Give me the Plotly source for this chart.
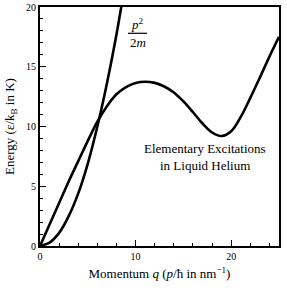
import plotly.graph_objects as go

# Roton dispersion curve
roton_q = [0, 1, 2, 3, 4, 5, 6, 7, 8, 9, 10, 11, 12, 13, 14, 15, 16, 17, 18, 19, 20, 21, 22, 23, 24, 25]
roton_e = [0, 1.8, 3.6, 5.4, 7.1, 8.8, 10.4, 11.7, 12.7, 13.3, 13.65, 13.75, 13.65, 13.35, 12.85, 12.1, 11.2, 10.25, 9.5, 9.2, 9.6, 10.8, 12.4, 14.1, 15.85, 17.5]

# Free particle p^2/2m curve
free_q = [0, 1, 2, 3, 4, 5, 6, 7, 8, 8.6]
free_e = [0, 0.28, 1.1, 2.5, 4.4, 6.9, 10.0, 13.6, 17.7, 20.5]

x_ticks = [0, 10, 20]
y_ticks = [0, 5, 10, 15, 20]

FONT = "Liberation Serif"

fig = go.Figure()
fig.add_trace(go.Scatter(x=free_q, y=free_e, mode="lines",
                         line=dict(color="black", width=2.6, shape="spline", smoothing=0.8),
                         showlegend=False, hoverinfo="skip"))
fig.add_trace(go.Scatter(x=roton_q, y=roton_e, mode="lines",
                         line=dict(color="black", width=2.6, shape="spline", smoothing=1.0),
                         showlegend=False, hoverinfo="skip"))

fig.update_layout(
    width=287, height=291,
    margin=dict(l=40, r=8, t=7, b=45),
    plot_bgcolor="white", paper_bgcolor="white",
    font=dict(family=FONT, size=12, color="black"),
    xaxis=dict(range=[0, 25], tickvals=x_ticks, ticks="inside", ticklen=6, tickwidth=1.2, tickcolor="black",
               showline=True, linecolor="black", linewidth=2, mirror=True, showgrid=False, zeroline=False,
               automargin=False, tickfont=dict(size=10, family=FONT),
               minor=dict(dtick=2, ticks="inside", ticklen=3, tickcolor="black", tickwidth=1.2, showgrid=False),
               title=dict(text="Momentum <i>q</i> (<i>p</i>/ħ in nm<sup>−1</sup>)", font=dict(size=13, family=FONT), standoff=8)),
    yaxis=dict(range=[0, 20], tickvals=y_ticks, ticks="inside", ticklen=6, tickwidth=1.2, tickcolor="black",
               showline=True, linecolor="black", linewidth=2, mirror=True, showgrid=False, zeroline=False,
               automargin=False, tickfont=dict(size=10, family=FONT),
               minor=dict(dtick=1, ticks="inside", ticklen=3, tickcolor="black", tickwidth=1.2, showgrid=False),
               title=dict(text="Energy (ε/k<sub>B</sub> in K)", font=dict(size=13, family=FONT), standoff=8)),
)

# p^2/2m fraction label
fig.add_annotation(x=10.2, y=18.6, xref="x", yref="y", text="<i>p</i><sup>2</sup>", showarrow=False,
                   font=dict(size=13, family=FONT))
fig.add_annotation(x=10.2, y=17.0, xref="x", yref="y", text="2<i>m</i>", showarrow=False,
                   font=dict(size=13, family=FONT))
fig.add_shape(type="line", x0=9.2, x1=11.2, y0=17.8, y1=17.8, xref="x", yref="y", line=dict(color="black", width=1.2))

fig.add_annotation(x=17.3, y=8.2, xref="x", yref="y", text="Elementary Excitations",
                   showarrow=False, font=dict(size=13, family=FONT))
fig.add_annotation(x=17.3, y=6.75, xref="x", yref="y", text="in Liquid Helium",
                   showarrow=False, font=dict(size=13, family=FONT))

fig.write_html("out.html", config={"displayModeBar": False},
               post_script="document.body.style.margin='0';")
